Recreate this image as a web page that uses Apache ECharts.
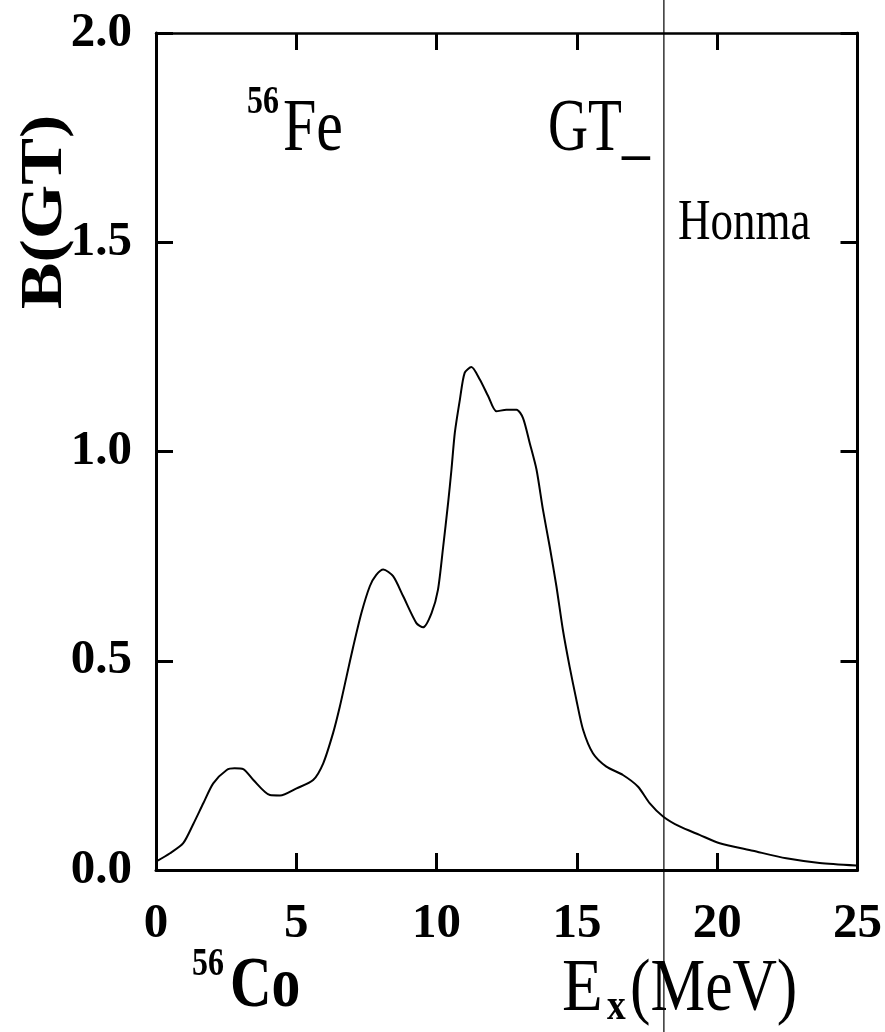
<!DOCTYPE html>
<html>
<head>
<meta charset="utf-8">
<script src="https://cdn.jsdelivr.net/npm/echarts@6/dist/echarts.min.js"></script>
<style>
html,body{margin:0;padding:0;background:#fff;}
#c{width:885px;height:1032px;}
</style>
</head>
<body>
<div id="c"></div>
<script>
// excitation energy (MeV)
const energy = [0, 0.5, 0.97, 1.33, 1.69, 2.04, 2.52, 2.8, 3.11, 3.47, 4.06, 4.42, 5.01, 5.6, 5.96, 6.31, 6.55, 6.79, 7.03, 7.32, 7.62, 7.85, 8.1, 8.45, 8.81, 9.28, 9.52, 9.82, 10.05, 10.23, 10.41, 10.53, 10.65, 10.83, 11.0, 11.24, 11.54, 11.84, 12.13, 12.49, 12.85, 13.08, 13.32, 13.56, 13.79, 14.03, 14.27, 14.5, 14.74, 14.98, 15.22, 15.57, 16.05, 16.64, 17.18, 17.59, 18.07, 18.66, 19.37, 20.09, 21.27, 22.46, 23.65, 24.95];
// B(GT) strength
const bgt = [0.02, 0.04, 0.064, 0.11, 0.16, 0.207, 0.239, 0.243, 0.241, 0.215, 0.179, 0.178, 0.195, 0.215, 0.255, 0.327, 0.39, 0.462, 0.534, 0.614, 0.678, 0.705, 0.718, 0.702, 0.654, 0.59, 0.58, 0.614, 0.67, 0.77, 0.877, 0.957, 1.045, 1.124, 1.188, 1.202, 1.172, 1.132, 1.096, 1.1, 1.1, 1.08, 1.02, 0.957, 0.861, 0.773, 0.678, 0.574, 0.486, 0.407, 0.335, 0.279, 0.247, 0.227, 0.199, 0.16, 0.128, 0.104, 0.084, 0.064, 0.046, 0.028, 0.017, 0.011];
// vertical marker energy
const cutEnergy = 18.1;
const xTickLabels = ['0', '5', '10', '15', '20', '25'];
const yTickLabels = ['0.0', '0.5', '1.0', '1.5', '2.0'];

const FONT = 'Liberation Serif';
const chart = echarts.init(document.getElementById('c'));

const axisLineStyle = { show: true, onZero: false, lineStyle: { color: '#000', width: 3 } };
const tickStyle = { show: true, inside: true, length: 17, lineStyle: { color: '#000', width: 3 } };

chart.setOption({
  animation: false,
  backgroundColor: '#fff',
  grid: { left: 156, right: 27, top: 33, bottom: 162 },
  xAxis: [
    {
      type: 'value', min: 0, max: 25, interval: 5,
      axisLine: axisLineStyle, axisTick: tickStyle, splitLine: { show: false },
      axisLabel: {
        margin: 30, color: '#000', fontFamily: FONT, fontWeight: 'bold', fontSize: 49,
        formatter: v => xTickLabels[Math.round(v / 5)]
      }
    },
    {
      type: 'value', position: 'top', min: 0, max: 25, interval: 5,
      axisLine: { show: true, onZero: false, lineStyle: { color: '#000', width: 2.5 } }, axisTick: tickStyle,
      axisLabel: { show: false }, splitLine: { show: false }
    }
  ],
  yAxis: [
    {
      type: 'value', min: 0, max: 2, interval: 0.5,
      axisLine: axisLineStyle, axisTick: tickStyle, splitLine: { show: false },
      axisLabel: {
        margin: 24, color: '#000', fontFamily: FONT, fontWeight: 'bold', fontSize: 49,
        formatter: v => yTickLabels[Math.round(v / 0.5)]
      }
    },
    {
      type: 'value', position: 'right', min: 0, max: 2, interval: 0.5,
      axisLine: axisLineStyle, axisTick: tickStyle,
      axisLabel: { show: false }, splitLine: { show: false }
    }
  ],
  series: [{
    type: 'line',
    data: energy.map((e, i) => [e, bgt[i]]),
    symbol: 'none',
    smooth: 0.25,
    lineStyle: { color: '#000', width: 2 },
    clip: true
  }]
});

function txt(text, x, y, size, weight, sx, extra) {
  return Object.assign({
    type: 'text', x: x, y: y, scaleX: sx, scaleY: 1, z: 10,
    style: {
      text: text, x: 0, y: 0, fill: '#000',
      fontFamily: FONT, fontSize: size, fontWeight: weight,
      align: 'left', verticalAlign: 'middle'
    }
  }, extra || {});
}

const cutX = chart.convertToPixel({ xAxisIndex: 0 }, cutEnergy);

chart.setOption({
  graphic: [
    txt('56', 247, 103, 40, 'bold', 0.8),
    txt('Fe', 283, 130, 75, 'normal', 0.8),
    txt('GT_', 548, 130, 75, 'normal', 0.74),
    txt('Honma', 678, 224, 57, 'normal', 0.79),
    txt('56', 192, 965, 40, 'bold', 0.8),
    txt('Co', 230, 987, 72, 'bold', 0.8),
    txt('E', 562, 990, 75, 'normal', 0.89),
    txt('x', 607, 1008, 44, 'bold', 0.85),
    txt('(MeV)', 630, 990, 75, 'normal', 0.82),
    {
      type: 'text', x: 46, y: 212, rotation: Math.PI / 2, scaleX: 1, scaleY: 0.85, z: 10,
      style: {
        text: 'B(GT)', x: 0, y: 0, fill: '#000', fontFamily: FONT, fontSize: 70, fontWeight: 'bold',
        align: 'center', verticalAlign: 'middle'
      }
    },
    {
      type: 'line', z: 20,
      shape: { x1: cutX, y1: 0, x2: cutX, y2: 1032 },
      style: { stroke: '#000', lineWidth: 1.2 }
    }
  ]
});
</script>
</body>
</html>
